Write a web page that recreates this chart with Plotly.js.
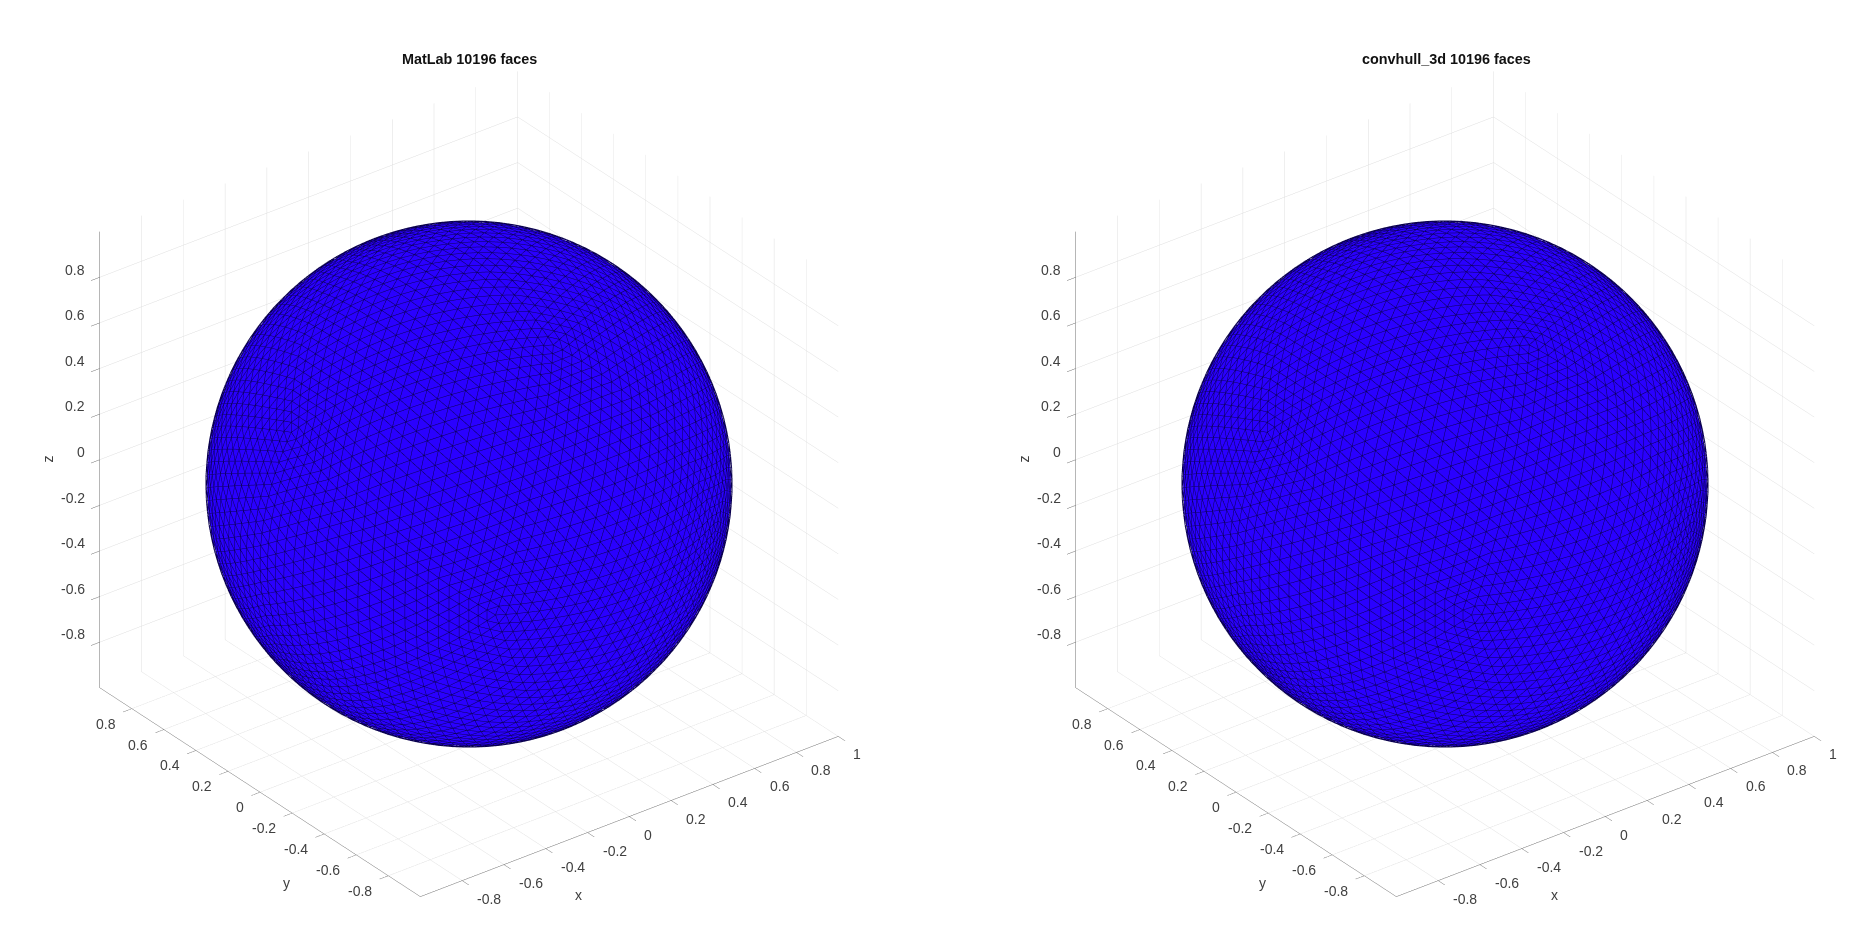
<!DOCTYPE html>
<html>
<head>
<meta charset="utf-8">
<script src="https://cdn.plot.ly/plotly-3.0.1.min.js"></script>
<style>html,body{margin:0;padding:0;background:#fff}#chart{width:1862px;height:949px}</style>
</head>
<body>
<div id="chart"></div>
<script>
// Values
const panelTitles = ["MatLab 10196 faces", "convhull_3d 10196 faces"];
const xTicks = [-0.8,-0.6,-0.4,-0.2,0,0.2,0.4,0.6,0.8,1];
const yTicks = [-0.8,-0.6,-0.4,-0.2,0,0.2,0.4,0.6,0.8];
const zTicks = [-0.8,-0.6,-0.4,-0.2,0,0.2,0.4,0.6,0.8];
const axisRange = [-1,1];
const viewAzimuth = -37.5, viewElevation = 30;

// NOTE: the reference's hull vertices (about 5100 per sphere) cannot be read from
// the picture. The unit sphere here is a stand-in: a regular geodesic subdivision of an icosahedron
// with a similar face count, so its triangles are not the reference's triangles.
const subdivisionFrequency = 23;
const phi = (1+Math.sqrt(5))/2;
const icoVerts = [[-1,phi,0],[1,phi,0],[-1,-phi,0],[1,-phi,0],[0,-1,phi],[0,1,phi],[0,-1,-phi],[0,1,-phi],[phi,0,-1],[phi,0,1],[-phi,0,-1],[-phi,0,1]];
const icoFaces = [[0,11,5],[0,5,1],[0,1,7],[0,7,10],[0,10,11],[1,5,9],[5,11,4],[11,10,2],[10,7,6],[7,1,8],[3,9,4],[3,4,2],[3,2,6],[3,6,8],[3,8,9],[4,9,5],[2,4,11],[6,2,10],[8,6,7],[9,8,1]];

function buildSphere(n){
  const X=[],Y=[],Z=[],I=[],J=[],K=[],map=new Map(),edges=new Set();
  function vid(p){
    const l=Math.hypot(p[0],p[1],p[2]), q=[p[0]/l,p[1]/l,p[2]/l];
    const key=q.map(v=>Math.round(v*1e6)).join(',');
    if(map.has(key))return map.get(key);
    const id=X.length;X.push(q[0]);Y.push(q[1]);Z.push(q[2]);map.set(key,id);return id;
  }
  function tri(a,b,c){
    I.push(a);J.push(b);K.push(c);
    [[a,b],[b,c],[c,a]].forEach(e=>edges.add(Math.min(e[0],e[1])+'_'+Math.max(e[0],e[1])));
  }
  icoFaces.forEach(f=>{
    const A=icoVerts[f[0]],B=icoVerts[f[1]],C=icoVerts[f[2]],ids=[];
    for(let r=0;r<=n;r++){const row=[];for(let s=0;s<=n-r;s++){
      const t=n-r-s;row.push(vid([0,1,2].map(d=>(A[d]*t+B[d]*s+C[d]*r)/n)));}ids.push(row);}
    for(let r=0;r<n;r++)for(let s=0;s<n-r;s++){
      tri(ids[r][s],ids[r][s+1],ids[r+1][s]);
      if(s<n-r-1)tri(ids[r][s+1],ids[r+1][s+1],ids[r+1][s]);
    }
  });
  // Wires sit on the unit sphere; the filled faces are pulled in a little so the wires stay in front.
  const inset=0.995,lx=[],ly=[],lz=[];
  edges.forEach(e=>{const [a,b]=e.split('_').map(Number);
    lx.push(X[a],X[b],null);ly.push(Y[a],Y[b],null);lz.push(Z[a],Z[b],null);});
  return {X:X.map(v=>v*inset),Y:Y.map(v=>v*inset),Z:Z.map(v=>v*inset),I,J,K,lx,ly,lz};
}
const sph = buildSphere(subdivisionFrequency);

const textColor="#404040", lineColor="#6e6e6e", gridColor="#dedede";
const fontFamily="Liberation Sans", tickSize=14;
function axis(ticks){return {
  title:{text:""},showticklabels:false,
  range:axisRange,autorange:false,tickmode:"array",tickvals:ticks,
  showgrid:true,gridcolor:gridColor,gridwidth:1,zeroline:false,showbackground:false,
  showline:true,linecolor:lineColor,linewidth:1,ticks:"outside",ticklen:11,tickcolor:lineColor,tickwidth:1,showspikes:false
};}
function note(x,y,z,text,xanchor,xshift,yshift,textangle){return {
  x,y,z,text,showarrow:false,xanchor,yanchor:"middle",xshift,yshift,textangle:textangle||0,
  font:{family:fontFamily,size:tickSize,color:textColor}
};}
function sceneNotes(){
  const out=[];
  xTicks.forEach(t=>out.push(note(t,-1,-1,String(t),"left",13,-18)));
  yTicks.forEach(t=>out.push(note(-1,t,-1,String(t),"right",-14,-15)));
  zTicks.forEach(t=>out.push(note(-1,1,t,String(t),"right",-12.5,7.7)));
  out.push(note(0,-1,-1,"x","center",-51,-78.5));
  out.push(note(-1,0,-1,"y","center",26,-91));
  out.push(note(-1,1,0,"z","center",-52,1,-90));
  return out;
}
const camDist = 1.55, boxScale = 1.1327;
const az=viewAzimuth*Math.PI/180, el=viewElevation*Math.PI/180;
const eye={x:camDist*Math.cos(el)*Math.sin(az),y:-camDist*Math.cos(el)*Math.cos(az),z:camDist*Math.sin(el)};
function scene(x0,x1){return {
  domain:{x:[x0/1862,x1/1862],y:[0,930/949]},
  aspectmode:"manual",aspectratio:{x:boxScale,y:boxScale,z:boxScale},
  camera:{eye:eye,up:{x:0,y:0,z:1},center:{x:0,y:0,z:0},projection:{type:"orthographic"}},
  xaxis:axis(xTicks),yaxis:axis(yTicks),zaxis:axis(zTicks),bgcolor:"#fff",
  annotations:sceneNotes()
};}
function traces(s){return [
  {type:"mesh3d",scene:s,x:sph.X,y:sph.Y,z:sph.Z,i:sph.I,j:sph.J,k:sph.K,color:"#2a00ff",flatshading:true,
   lighting:{ambient:1,diffuse:0,specular:0,fresnel:0,roughness:1},hoverinfo:"skip",showscale:false},
  {type:"scatter3d",scene:s,mode:"lines",x:sph.lx,y:sph.ly,z:sph.lz,line:{color:"#0a0050",width:1},hoverinfo:"skip",showlegend:false}
];}
function title(text,x){return {text:"<b>"+text+"</b>",x:x/1862,y:1-59/949,xref:"paper",yref:"paper",xanchor:"center",yanchor:"middle",showarrow:false,
  font:{family:fontFamily,size:14.4,color:"#111"}};}
Plotly.newPlot("chart",traces("scene").concat(traces("scene2")),{
  width:1862,height:949,margin:{l:0,r:0,t:0,b:0},paper_bgcolor:"#fff",showlegend:false,
  scene:scene(53,885),scene2:scene(1029,1861),
  annotations:[title(panelTitles[0],469),title(panelTitles[1],1446)]
},{displayModeBar:false});
</script>
</body>
</html>
